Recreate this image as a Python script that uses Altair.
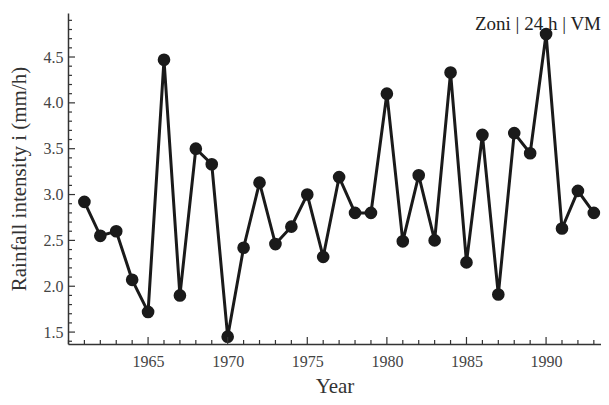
import altair as alt
import pandas as pd

years = list(range(1961, 1994))
intensity = [2.92, 2.55, 2.60, 2.07, 1.72, 4.47, 1.90, 3.50, 3.33, 1.45,
             2.42, 3.13, 2.46, 2.65, 3.00, 2.32, 3.19, 2.80, 2.80, 4.10,
             2.49, 3.21, 2.50, 4.33, 2.26, 3.65, 1.91, 3.67, 3.45, 4.75,
             2.63, 3.04, 2.80]

x_major = [1965, 1970, 1975, 1980, 1985, 1990]
x_minor = [y for y in range(1960, 1994) if y not in x_major]
y_major = [1.5, 2.0, 2.5, 3.0, 3.5, 4.0, 4.5]
y_minor = [round(1.4 + 0.1 * k, 1) for k in range(36)]
y_minor = [v for v in y_minor if v not in y_major]

label_text = "Zoni | 24 h | VM"

W, H = 533, 331
FONT = "Liberation Serif"
INK = "#1a1a1a"

df = pd.DataFrame({"year": years, "i": intensity})

xs = alt.Scale(domain=[1959.97, 1993.45], nice=False, zero=False)
ys = alt.Scale(domain=[1.37, 4.98], nice=False, zero=False)

X_AXIS = alt.Axis(values=x_major, format="d", ticks=False, grid=False,
                  labelPadding=9, titlePadding=6, labelFontSize=16,
                  titleFontSize=21, titleFontWeight="normal",
                  labelColor="#444", titleColor="#333",
                  domainColor="#333", domainWidth=1.5,
                  labelFont=FONT, titleFont=FONT)
Y_AXIS = alt.Axis(values=y_major, format=".1f", ticks=False, grid=False,
                  labelPadding=5, titlePadding=14, labelFontSize=16,
                  titleFontSize=21, titleFontWeight="normal",
                  labelColor="#444", titleColor="#333",
                  domainColor="#333", domainWidth=1.5,
                  labelFont=FONT, titleFont=FONT)

def X():
    return alt.X("year:Q", scale=xs, title="Year", axis=X_AXIS)

def Y():
    return alt.Y("i:Q", scale=ys, title="Rainfall intensity i (mm/h)", axis=Y_AXIS)

base = alt.Chart(df)

line = base.mark_line(color=INK, strokeWidth=3).encode(x=X(), y=Y())
pts = base.mark_circle(color=INK, size=160, opacity=1).encode(x=X(), y=Y())

def xticks(vals, length):
    return alt.Chart(pd.DataFrame({"year": vals})).mark_rule(color="#333", strokeWidth=1.2).encode(
        x=X(), y=alt.value(H), y2=alt.value(H - length))

def yticks(vals, length):
    return alt.Chart(pd.DataFrame({"i": vals})).mark_rule(color="#333", strokeWidth=1.2).encode(
        y=Y(), x=alt.value(0), x2=alt.value(length))

txt = alt.Chart(pd.DataFrame({"t": [label_text]})).mark_text(
    font=FONT, fontSize=19, color="#222", align="right", baseline="middle"
).encode(text="t:N", x=alt.value(W), y=alt.value(11))

chart = alt.layer(
    line, pts,
    xticks(x_major, 7), xticks(x_minor, 4),
    yticks(y_major, 7), yticks(y_minor, 4),
    txt
).properties(
    width=W, height=H,
    autosize=alt.AutoSizeParams(type="none"),
    padding={"left": 60, "top": 5, "right": 0, "bottom": 53},
    background="white",
).configure_view(stroke=None)

chart.save("out.html", embed_options={"renderer": "svg", "actions": False})
